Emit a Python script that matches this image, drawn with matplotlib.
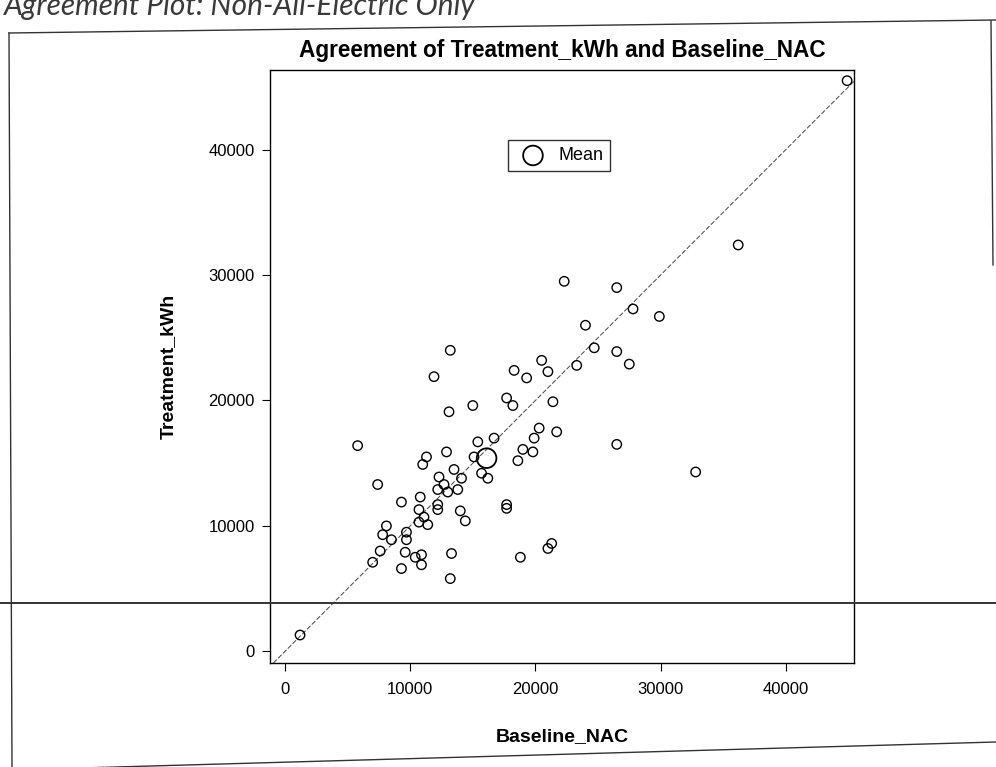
import matplotlib
matplotlib.use('Agg')
import matplotlib.pyplot as plt
from matplotlib.lines import Line2D
import numpy as np

plt.rcParams['font.family'] = ['Liberation Sans', 'DejaVu Sans']

# values
baseline_nac = [22300, 26500, 27800, 29900, 24000, 24700, 26500, 27500, 23300, 13200,
                11900, 20500, 21000, 18300, 19300, 17700, 18200, 21400, 15000, 13100,
                20300, 21700, 19900, 26500, 5800, 16700, 15400, 19000, 19800, 12900,
                18600, 11300, 11000, 15100, 15700, 16200, 13500, 14100, 12300, 12700,
                12200, 13000, 13800, 7400, 10800, 9300, 12200, 12200, 10700, 11100,
                14000, 14400, 10700, 11400, 17700, 17700, 8100, 7800, 8500, 9700,
                9700, 7600, 7000, 9600, 10400, 10900, 10900, 9300, 13300, 13200,
                18800, 21000, 21300, 32800, 36200, 44900, 1200]
treatment_kwh = [29500, 29000, 27300, 26700, 26000, 24200, 23900, 22900, 22800, 24000,
                 21900, 23200, 22300, 22400, 21800, 20200, 19600, 19900, 19600, 19100,
                 17800, 17500, 17000, 16500, 16400, 17000, 16700, 16100, 15900, 15900,
                 15200, 15500, 14900, 15500, 14200, 13800, 14500, 13800, 13900, 13300,
                 12900, 12700, 12900, 13300, 12300, 11900, 11700, 11300, 11300, 10700,
                 11200, 10400, 10300, 10100, 11700, 11400, 10000, 9300, 8900, 9500,
                 8900, 8000, 7100, 7900, 7500, 7700, 6900, 6600, 7800, 5800,
                 7500, 8200, 8600, 14300, 32400, 45500, 1300]
mean_xy = (16100, 15400)
ticks = [0, 10000, 20000, 30000, 40000]

W, H = 996, 767
def fx(px):
    return px / W
def fy(py):
    return 1 - py / H

fig = plt.figure(figsize=(W / 100, H / 100), dpi=100)
ax = fig.add_axes([fx(270), fy(663), fx(854) - fx(270), fy(70) - fy(663)])

ax.axline((0, 0), slope=1, color='#444444', lw=0.7, ls=(0, (5, 2)), zorder=1)
ax.scatter(baseline_nac, treatment_kwh, s=46, facecolors='none', edgecolors='black',
           linewidths=1.0, zorder=3)
mean_pt = ax.scatter([mean_xy[0]], [mean_xy[1]], s=200, facecolors='none',
                     edgecolors='black', linewidths=1.3, zorder=4, label='Mean')

ax.set_xlim(-1200, 45450)
ax.set_ylim(-930, 46350)
ax.set_xticks(ticks)
ax.set_yticks(ticks)
ax.tick_params(direction='out', length=6, width=0.8, labelsize=12, pad=5)
ax.tick_params(axis='x', pad=8)
for s in ax.spines.values():
    s.set_linewidth(1.0)

ax.set_title('Agreement of Treatment_kWh and Baseline_NAC', fontsize=16.3,
             fontweight='bold', pad=9)
ax.set_xlabel('Baseline_NAC', fontsize=14, fontweight='bold')
ax.set_ylabel('Treatment_kWh', fontsize=14, fontweight='bold')
ax.xaxis.set_label_coords(0.5, -0.11)
ax.yaxis.set_label_coords(-0.16, 0.5)

leg = ax.legend(handles=[mean_pt], loc='upper center', bbox_to_anchor=(0.495, 0.882),
                fontsize=13, frameon=True, fancybox=False, edgecolor='black',
                borderpad=0.4, handletextpad=0.4, borderaxespad=0)
leg.get_frame().set_linewidth(1.0)

# page elements from the scan: caption, outer box and a ruled line
fig.text(fx(4), fy(15), 'Agreement Plot: Non-All-Electric Only', fontsize=21.5,
         style='italic', color='#3a3a3a', va='baseline', ha='left',
         family=['Lato', 'DejaVu Sans'])
for (x0, y0), (x1, y1) in [((9, 33), (996, 20)), ((9, 33), (12, 767)),
                           ((10, 770), (996, 742)), ((991, 21), (993, 265))]:
    fig.add_artist(Line2D([fx(x0), fx(x1)], [fy(y0), fy(y1)], color='#333333',
                          lw=1.0, transform=fig.transFigure))
fig.add_artist(Line2D([0, 1], [fy(603), fy(603)], color='#333333', lw=1.4,
                      transform=fig.transFigure))

fig.savefig('out.png', dpi=100)
